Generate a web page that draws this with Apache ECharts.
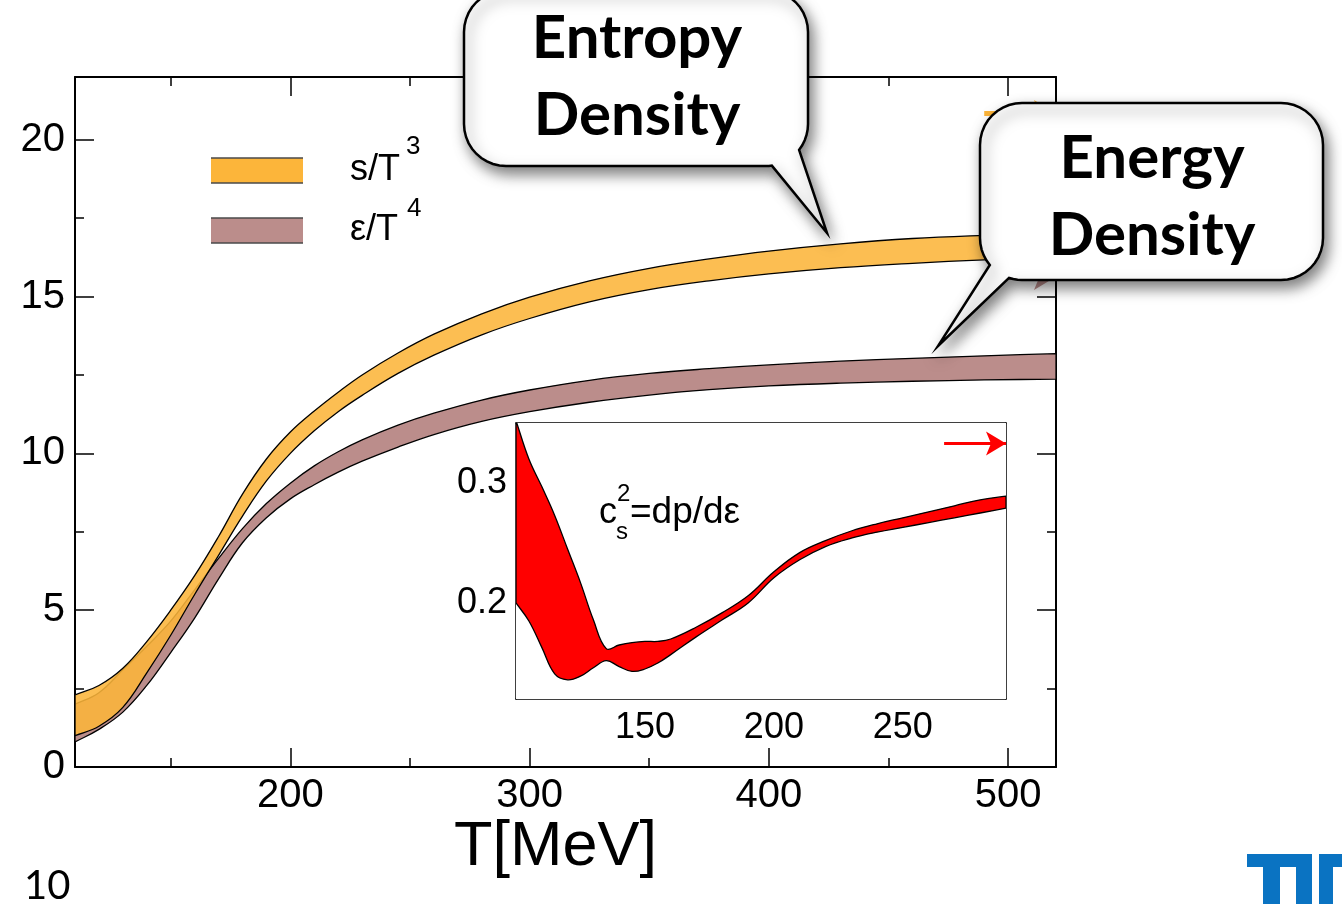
<!DOCTYPE html>
<html><head><meta charset="utf-8">
<script src="https://cdn.jsdelivr.net/npm/echarts@6/dist/echarts.min.js"></script>
<style>html,body{margin:0;padding:0;background:#fff}#c{width:1342px;height:904px}</style>
</head><body><div id="c"></div>
<script>
// ---------------- data ----------------
const T_MAIN  = [110,120,130,140,150,160,170,180,190,200,210,220,230,245,260,280,300,325,350,375,400,430,460,490,520];
const S_UPPER = [2.3,2.6,3.15,4.0,5.0,6.1,7.35,8.7,9.82,10.68,11.35,11.95,12.5,13.2,13.8,14.45,14.98,15.5,15.9,16.2,16.45,16.68,16.85,16.95,17.02];
const S_LOWER = [1.0,1.3,1.9,3.0,4.2,5.5,6.75,8.0,9.12,10.0,10.72,11.33,11.85,12.55,13.13,13.78,14.3,14.83,15.22,15.5,15.72,15.92,16.06,16.17,16.25];
const E_UPPER = [2.0,2.37,3.1,3.85,4.65,5.65,6.65,7.6,8.4,9.05,9.6,10.05,10.43,10.9,11.28,11.7,12.02,12.33,12.55,12.7,12.82,12.94,13.03,13.11,13.18];
const E_LOWER = [0.8,1.2,1.75,2.6,3.65,4.75,6.0,7.15,7.95,8.55,9.0,9.4,9.75,10.2,10.6,11.02,11.33,11.63,11.86,12.03,12.15,12.24,12.3,12.34,12.37];

const T_INSET   = [100,105,110,115,120,125,130,135,140,145,150,155,160,170,180,190,200,210,220,230,240,250,260,270,280,290];
const CS2_UPPER = [0.352,0.32,0.297,0.273,0.245,0.217,0.186,0.162,0.165,0.167,0.168,0.168,0.17,0.18,0.192,0.206,0.226,0.242,0.252,0.26,0.266,0.271,0.276,0.281,0.286,0.289];
const CS2_LOWER = [0.2,0.185,0.163,0.141,0.136,0.139,0.146,0.152,0.147,0.143,0.145,0.15,0.157,0.172,0.186,0.2,0.221,0.236,0.247,0.254,0.259,0.263,0.267,0.271,0.275,0.279];

// limit arrows: [xStart, xEnd, level]
const ARROW_S   = [490, 520, 20.84];
const ARROW_E   = [490, 520, 15.63];
const ARROW_CS2 = [266, 290, 0.333];

// ticks / labels
const X_MAIN_MAJOR = [200,300,400,500];
const X_MAIN_MINOR = [150,250,350,450];
const Y_MAIN_MAJOR = [0,5,10,15,20];
const Y_MAIN_MINOR = [2.5,7.5,12.5,17.5];
const X_INSET_MAJOR = [150,200,250];
const X_INSET_MINOR = [125,175,225,275];
const Y_INSET_MAJOR = [0.2,0.3];
const Y_INSET_MINOR = [0.15,0.25];

// ---------------- styling ----------------
const FONT = '"Liberation Sans", Arial, Helvetica, sans-serif';
const BFONT = 'Lato, "Open Sans", sans-serif';
const ORANGE = '#FCB53A';
const BROWN = '#BB8D8B';
const RED = '#FF0000';

function mkAxis(o) {
  const tickStyle = {color:'#000', width:1.5};
  const major = Object.assign({
    type:'value', gridIndex:o.grid, position:o.pos, min:o.min, max:o.max,
    axisLine:{show:true, onZero:false, lineStyle:{color:'#000', width:o.lw}},
    axisTick:{show:true, inside:true, length:o.majLen, customValues:o.major, lineStyle:tickStyle},
    axisLabel: o.label ? {show:true, customValues:o.major, fontSize:o.fs, fontFamily:FONT, color:'#000', margin:o.margin} : {show:false},
    splitLine:{show:false}
  }, o.extra || {});
  const minor = {
    type:'value', gridIndex:o.grid, position:o.pos, min:o.min, max:o.max,
    axisLine:{show:false, onZero:false},
    axisTick:{show:true, inside:true, length:o.minLen, customValues:o.minor, lineStyle:tickStyle},
    axisLabel:{show:false}, splitLine:{show:false}
  };
  return [major, minor];
}

const xAxes = [].concat(
  mkAxis({grid:0,pos:'bottom',min:110,max:520,major:X_MAIN_MAJOR,minor:X_MAIN_MINOR,majLen:19,minLen:9,lw:2,label:true,fs:40,margin:9,
    extra:{name:'T[MeV]',nameLocation:'middle',nameGap:49,nameMoveOverlap:false,
      nameTextStyle:{fontSize:63,fontFamily:FONT,color:'#000',padding:[0,20,0,0]}}}),
  mkAxis({grid:0,pos:'top',min:110,max:520,major:X_MAIN_MAJOR,minor:X_MAIN_MINOR,majLen:19,minLen:9,lw:2,label:false}),
  mkAxis({grid:1,pos:'bottom',min:100,max:290,major:X_INSET_MAJOR,minor:X_INSET_MINOR,majLen:19,minLen:9,lw:1.5,label:true,fs:36,margin:11}),
  mkAxis({grid:1,pos:'top',min:100,max:290,major:X_INSET_MAJOR,minor:X_INSET_MINOR,majLen:19,minLen:9,lw:1.5,label:false})
);
const yAxes = [].concat(
  mkAxis({grid:0,pos:'left',min:0,max:22,major:Y_MAIN_MAJOR,minor:Y_MAIN_MINOR,majLen:19,minLen:9,lw:2,label:true,fs:40,margin:10}),
  mkAxis({grid:0,pos:'right',min:0,max:22,major:Y_MAIN_MAJOR,minor:Y_MAIN_MINOR,majLen:19,minLen:9,lw:2,label:false}),
  mkAxis({grid:1,pos:'left',min:0.12,max:0.35,major:Y_INSET_MAJOR,minor:Y_INSET_MINOR,majLen:19,minLen:10,lw:1.5,label:true,fs:36,margin:9}),
  mkAxis({grid:1,pos:'right',min:0.12,max:0.35,major:Y_INSET_MAJOR,minor:Y_INSET_MINOR,majLen:19,minLen:10,lw:1.5,label:false})
);

function bandSeries(name, xs, lo, up, fill, xi, yi, z) {
  return {
    type:'custom', name, xAxisIndex:xi, yAxisIndex:yi, clip:true, silent:true, z,
    animation:false,
    data: xs.map((x,i)=>[x, lo[i], up[i]]),
    encode:{x:0, y:[1,2]},
    renderItem(params, api) {
      if (params.dataIndexInside !== 0) return null;
      const n = params.dataInsideLength;
      const U = [], Lw = [];
      for (let i = 0; i < n; i++) {
        U.push(api.coord([api.value(0,i), api.value(2,i)]));
        Lw.push(api.coord([api.value(0,i), api.value(1,i)]));
      }
      const L = Lw.slice().reverse();
      const pts = [U[0]].concat(U, [U[n-1], L[0]], L, [L[n-1]]);
      return {type:'polygon', shape:{points:pts, smooth:0.4},
              style:{fill:fill, stroke:'#000', lineWidth:1.3}};
    }
  };
}

function arrowSeries(xi, yi, a, color, width, size) {
  return {
    type:'line', xAxisIndex:xi, yAxisIndex:yi, silent:true, z:3, animation:false,
    data:[[a[0],a[2]],[a[1],a[2]]], symbol:'none', lineStyle:{opacity:0},
    markLine:{silent:true, animation:false, symbol:['none','arrow'], symbolSize:size,
      label:{show:false}, lineStyle:{color:color, width:width, type:'solid'},
      emphasis:{disabled:true},
      data:[[{coord:[a[0],a[2]]},{coord:[a[1],a[2]]}]]}
  };
}

// ---------------- decorations ----------------
function arc(cx, cy, r, a0, a1, n) {
  const p = [];
  for (let i = 0; i <= n; i++) {
    const a = (a0 + (a1 - a0) * i / n) * Math.PI / 180;
    p.push([cx + r * Math.cos(a), cy + r * Math.sin(a)]);
  }
  return p;
}
function entropyBubble() {
  const x0=464, y0=-10, x1=808, y1=166, r=42;
  return [].concat(
    arc(x0+r, y0+r, r, 180, 270, 10),
    arc(x1-r, y0+r, r, 270, 360, 10),
    arc(x1-r, y1-r, r, 0, 38, 5),
    [[827, 233]],
    arc(x1-r, y1-r, r, 82, 90, 2),
    arc(x0+r, y1-r, r, 90, 180, 10)
  );
}
function energyBubble() {
  const x0=980, y0=103, x1=1323, y1=280, r=42;
  return [].concat(
    arc(x0+r, y0+r, r, 180, 270, 10),
    arc(x1-r, y0+r, r, 270, 360, 10),
    arc(x1-r, y1-r, r, 0, 90, 10),
    arc(x0+r, y1-r, r, 90, 108, 3),
    [[938, 346]],
    arc(x0+r, y1-r, r, 140, 180, 5)
  );
}
const bubbleStyle = {fill:'#fff', stroke:'#000', lineWidth:2.5,
  shadowBlur:14, shadowColor:'rgba(0,0,0,0.5)', shadowOffsetX:4, shadowOffsetY:7};
function txt(x, y, text, font, extra) {
  return Object.assign({type:'text', z:100, x:x, y:y, silent:true,
    style:Object.assign({text:text, font:font, fill:'#000', textAlign:'left', textVerticalAlign:'middle'}, extra || {})});
}
function legendSwatch(y, color) {
  return [
    {type:'rect', z:50, silent:true, shape:{x:211, y:y, width:92, height:25}, style:{fill:color}},
    {type:'line', z:51, silent:true, shape:{x1:211, y1:y, x2:303, y2:y}, style:{stroke:'#4a4a4a', lineWidth:1.6}},
    {type:'line', z:51, silent:true, shape:{x1:211, y1:y+25, x2:303, y2:y+25}, style:{stroke:'#4a4a4a', lineWidth:1.6}}
  ];
}
const TUM_BLUE = '#0A73C2';
function blue(x, y, w, h) { return {type:'rect', z:100, silent:true, shape:{x, y, width:w, height:h}, style:{fill:TUM_BLUE}}; }

const graphics = [].concat(
  legendSwatch(158, ORANGE),
  legendSwatch(218, BROWN),
  [
    txt(350, 170, 's/T', '36px ' + FONT),
    txt(406, 147, '3', '26px ' + FONT),
    txt(350, 230, 'ε/T', '36px ' + FONT),
    txt(407, 209, '4', '26px ' + FONT),
    txt(599, 513, 'c', '36px ' + FONT),
    txt(616, 532, 's', '24px ' + FONT),
    txt(617, 494, '2', '24px ' + FONT),
    txt(630, 513, '=dp/dε', '37px ' + FONT),
    {type:'polygon', z:90, silent:true, shape:{points:entropyBubble()}, style:bubbleStyle},
    {type:'polygon', z:92, silent:true, shape:{points:energyBubble()}, style:bubbleStyle},
    txt(637, 39, 'Entropy', 'bold 60px ' + BFONT, {textAlign:'center'}),
    txt(637, 116, 'Density', 'bold 60px ' + BFONT, {textAlign:'center'}),
    txt(1152, 159, 'Energy', 'bold 60px ' + BFONT, {textAlign:'center'}),
    txt(1152, 236, 'Density', 'bold 60px ' + BFONT, {textAlign:'center'}),
    txt(24, 886, '10', '40px ' + BFONT),
    blue(1247, 854, 65, 13),
    blue(1263, 854, 17, 50),
    blue(1296, 854, 16, 50),
    blue(1319, 854, 23, 13),
    blue(1319, 854, 14, 50)
  ]
);

const option = {
  backgroundColor:'#fff',
  animation:false,
  grid:[
    {left:75, top:77, width:981, height:690, show:false},
    {left:516, top:423, width:490, height:276, show:true, backgroundColor:'#fff', borderWidth:0, z:5}
  ],
  xAxis: xAxes,
  yAxis: yAxes,
  series:[
    bandSeries('ε/T⁴', T_MAIN, E_LOWER, E_UPPER, BROWN, 0, 0, 2),
    bandSeries('s/T³', T_MAIN, S_LOWER, S_UPPER, 'rgba(252,181,58,0.88)', 0, 0, 2),
    arrowSeries(0, 0, ARROW_S, ORANGE, 5, [20, 22]),
    arrowSeries(0, 0, ARROW_E, BROWN, 5, [20, 22]),
    bandSeries('cs2', T_INSET, CS2_LOWER, CS2_UPPER, RED, 4, 4, 6),
    arrowSeries(4, 4, ARROW_CS2, RED, 3, [18, 20])
  ],
  graphic: graphics
};
const chart = echarts.init(document.getElementById('c'));
chart.setOption(option);
</script>
</body></html>
